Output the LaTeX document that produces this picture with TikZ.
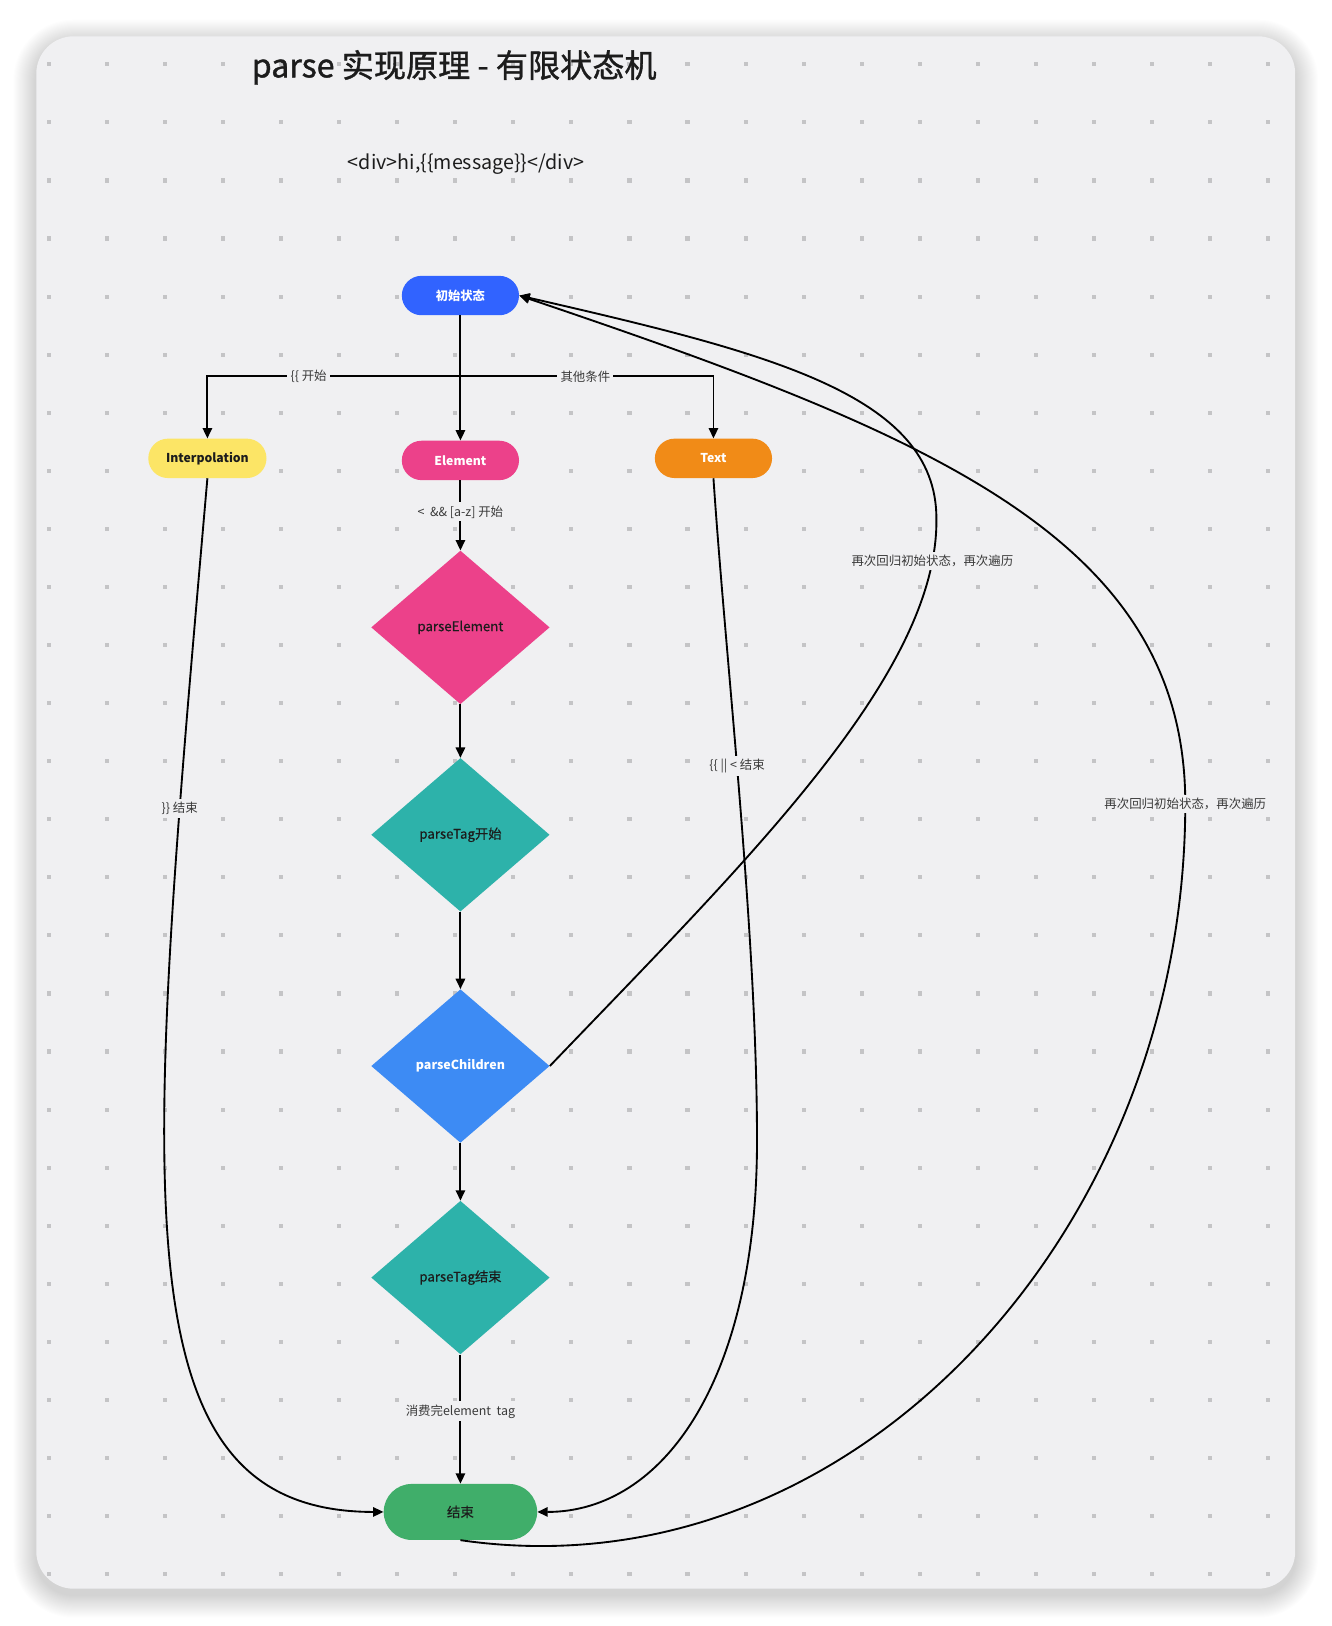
\documentclass[tikz,border=0pt]{standalone}
\usepackage{fontspec}
\setmainfont{Noto Sans CJK SC}
\newfontfamily\medfont{Noto Sans CJK SC}[FakeBold=0.4]
\newfontfamily\titlefont{Noto Sans CJK SC}[FakeBold=1.2]
\usetikzlibrary{shapes.geometric,arrows.meta}
\definecolor{canvas}{HTML}{F0F0F2}
\definecolor{dotc}{HTML}{C4C4C6}
\definecolor{labc}{HTML}{3A3A3A}
\definecolor{cinit}{HTML}{3163FF}
\definecolor{cyel}{HTML}{FCE566}
\definecolor{cpink}{HTML}{EC418A}
\definecolor{corange}{HTML}{F18B17}
\definecolor{cteal}{HTML}{2DB2AA}
\definecolor{cblue}{HTML}{3D8BF4}
\definecolor{cgreen}{HTML}{40AE6A}
\definecolor{ink}{HTML}{1C1C1C}
\tikzset{
  term/.style={rectangle, rounded corners=19pt, minimum width=113pt, minimum height=38pt, inner sep=0pt, font=\bfseries\fontsize{11.8}{14}\selectfont},
  dia/.style={diamond, minimum width=172pt, minimum height=148pt, inner sep=0pt, font=\medfont\fontsize{12.8}{15}\selectfont},
  arr/.style={line width=1.8pt, draw=black, -{Triangle[length=10pt,width=9pt]}},
  lbl/.style={fill=canvas, inner sep=3pt, text=labc, font=\fontsize{12}{14}\selectfont},
}
\begin{document}
\begin{tikzpicture}[x=1pt,y=-1pt]
\useasboundingbox (0,0) rectangle (1284,1568);
\fill[white] (0,0) rectangle (1284,1568);
% shadow
\foreach \i in {1,...,22}{
  \pgfmathsetmacro\rr{36+\i}
  \fill[black,opacity=0.007,rounded corners=\rr pt] ({35-\i},{35-\i+6}) rectangle ({1249+\i},{1532+\i+6});
}
% card
\fill[canvas,rounded corners=36pt] (35,35) rectangle (1249,1532);
% dots
\foreach \i in {0,...,21}{
  \foreach \j in {0,...,26}{
    \fill[dotc] ({47+56*\i-2},{62+56*\j-2}) rectangle ++(4,4);
  }
}
% titles
\node[text=ink, font=\titlefont\fontsize{31}{36}\selectfont, inner sep=0pt] (title) at (438,65) {parse 实现原理 - 有限状态机};
\node[text=ink, font=\fontsize{19}{22}\selectfont, inner sep=0pt] (src) at (449.5,158) {<div>hi,\{\{message\}\}</div>};
% nodes
\node[term, fill=cinit, text=white] (init) at (444,285) {初始状态};
\node[term, fill=cyel, text=ink, minimum width=114pt] (interp) at (200,442) {Interpolation};
\node[term, fill=cpink, text=white] (elem) at (444,444) {Element};
\node[term, fill=corange, text=white] (txt) at (688,442) {Text};
\node[dia, fill=cpink, text=ink] (pe) at (444,605) {parseElement};
\node[dia, fill=cteal, text=ink] (pts) at (444,805) {parseTag开始};
\node[dia, fill=cblue, text=white, font=\bfseries\fontsize{12}{15}\selectfont] (pc) at (444,1028) {parseChildren};
\node[dia, fill=cteal, text=ink] (pte) at (444,1232) {parseTag结束};
\node[term, fill=cgreen, text=ink, rounded corners=27pt, minimum width=148pt, minimum height=54pt, font=\medfont\fontsize{13}{15}\selectfont] (fin) at (444,1458) {结束};
% connectors
\coordinate (split) at (444,363);
\coordinate (k1) at (903,500);
\coordinate (k2) at (1143,775);
\coordinate (k3) at (730,1100);
\draw[arr] (init) -- (elem);
\draw[arr] (init.south) -- (split) -| node[lbl,pos=0.3]{\{\{ 开始} (interp.north);
\draw[arr] (init.south) -- (split) -| node[lbl,pos=0.247]{其他条件} (txt.north);
\draw[arr] (elem) -- node[lbl,pos=0.45]{<~ \&\& [a-z] 开始} (pe);
\draw[arr] (pe) -- (pts);
\draw[arr] (pts) -- (pc);
\draw[arr] (pc) -- (pte);
\draw[arr] (pte) -- node[lbl,pos=0.44]{消费完element~~tag} (fin);
\draw[arr] (interp.south) .. controls (140,1150) and (110,1458) .. node[lbl,pos=0.17]{\}\} 结束} (fin.west);
\draw[arr] (txt.south) .. controls (700,640) and (730,900) .. node[lbl,pos=0.45]{\{\{ || < 结束} (k3) .. controls (730,1330) and (640,1458) .. (fin.east);
\draw[arr] (pc.east) .. controls (720,830) and (905,650) .. node[lbl,pos=0.91]{再次回归初始状态，再次遍历} (k1) .. controls (903,380) and (740,340) .. (init.east);
\draw[arr] (fin.south) .. controls (820,1540) and (1143,1190) .. (k2) node[lbl]{再次回归初始状态，再次遍历} .. controls (1143,520) and (900,420) .. (init.east);
\end{tikzpicture}
\end{document}
